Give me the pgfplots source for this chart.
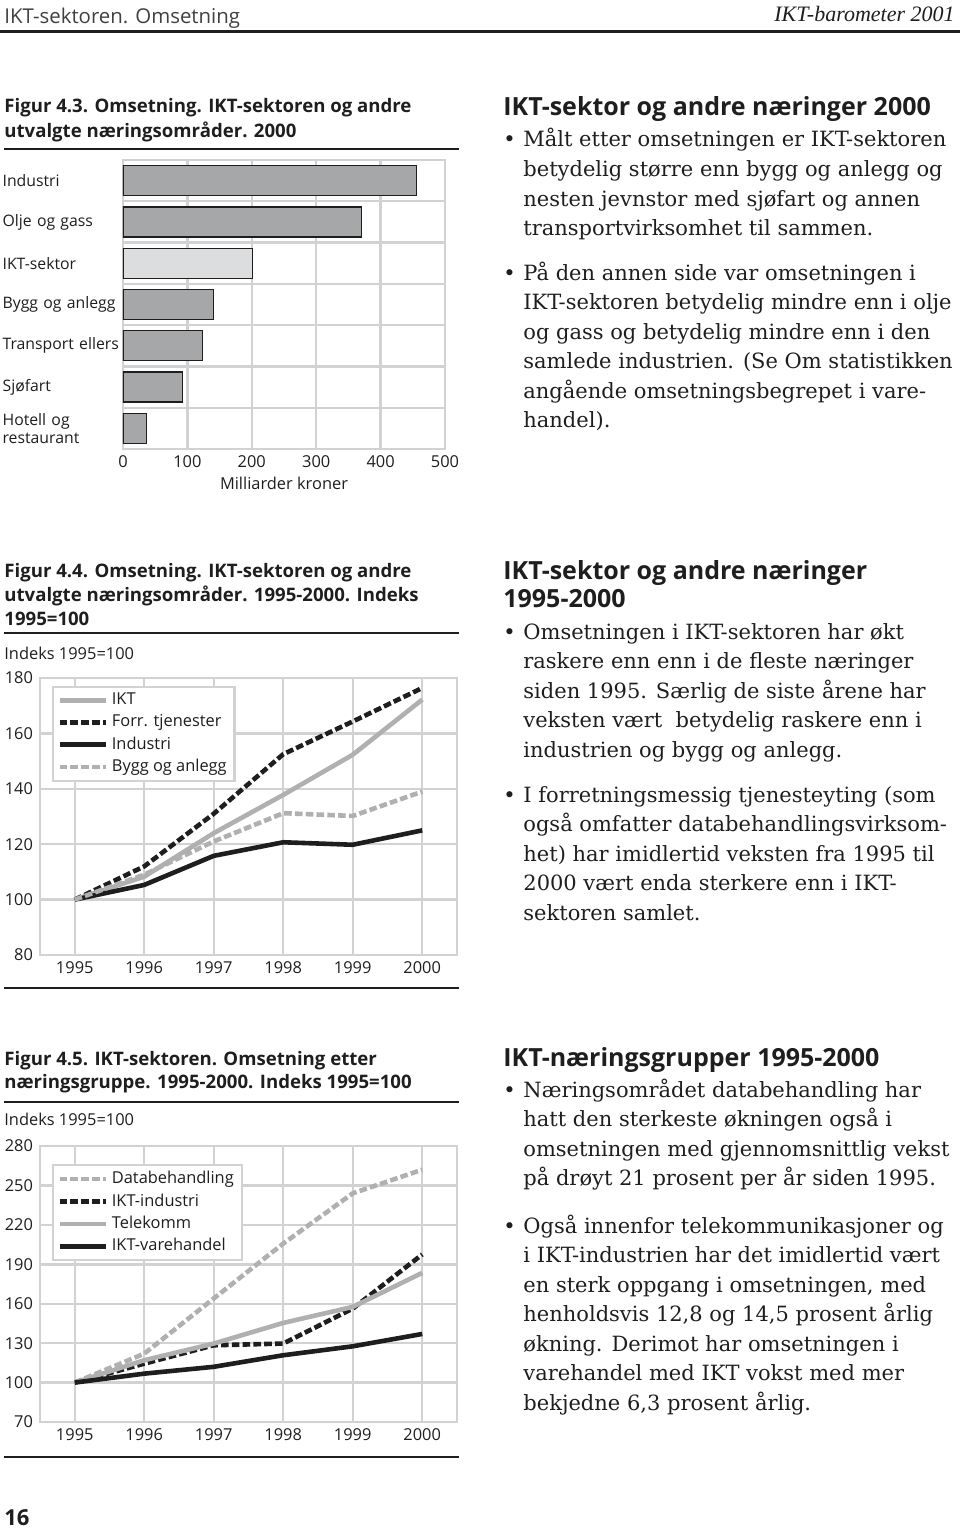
\documentclass[border=0pt]{standalone}
\usepackage{pgfplots}
\pgfplotsset{compat=1.18}
\usepackage{fontspec}
\setmainfont{DejaVu Serif}
\setsansfont{Open Sans}
\newfontfamily\timesf{Liberation Serif}
\definecolor{gridc}{HTML}{D2D2D2}
\definecolor{barc}{HTML}{A6A7A9}
\definecolor{iktc}{HTML}{DCDDDE}
\definecolor{lgrey}{HTML}{B0B0B0}
\definecolor{dk}{HTML}{1E1E1E}
\newcommand\fsz[2]{\fontsize{#1}{#2}\selectfont}
\newcommand\tickf{\sffamily\fsz{8.2pt}{9pt}}
\newcommand\catf{\sffamily\fsz{7.9pt}{9pt}}
\newcommand\bodyf{\rmfamily\fsz{10.5pt}{12pt}}
\newcommand\headf{\sffamily\bfseries\fsz{12.5pt}{14pt}}
\newcommand\titf{\sffamily\bfseries\fsz{9.3pt}{11pt}}
\newcommand\TL[2]{\node[anchor=base west,inner sep=0pt,font=\bodyf,text=dk] at (523,#1) {#2};}
\newcommand\BU[1]{\node[anchor=base west,inner sep=0pt,font=\bodyf,text=dk] at (503,#1) {•};}
\newcommand\HD[2]{\node[anchor=base west,inner sep=0pt,font=\headf,text=dk] at (503,#1) {#2};}
\newcommand\FT[2]{\node[anchor=base west,inner sep=0pt,font=\titf,text=dk] at (4,#1) {#2};}
\pgfplotsset{
  common/.style={
    scale only axis, anchor=south west,
    grid style={gridc, line width=1.2pt},
    minor grid style={gridc, line width=1.2pt},
    axis line style={gridc, line width=1.2pt},
    major tick length=0pt, minor tick length=0pt,
    ticklabel style={font=\tickf, text=dk},
    /pgf/number format/assume math mode=true,
    /pgf/number format/1000 sep={},
  },
  linech/.style={
    common, width=208.5pt, height=138.5pt,
    xmin=1994.5, xmax=2000.5, xtick={1995,...,2000},
    xmajorgrids, ymajorgrids,
    legend style={draw=gridc, line width=1.2pt, fill=white, font=\tickf, text=dk,
      inner xsep=2pt, inner ysep=1pt, row sep=-0.5pt, cells={anchor=west}},
    legend cell align=left,
    legend image code/.code={\draw[##1] (0pt,0pt) -- (23pt,0pt);},
  },
  sg/.style={lgrey, line width=2.3pt, line join=round},
  dg/.style={lgrey, line width=2.3pt, line join=round, dash pattern=on 3.8pt off 1.6pt},
  sb/.style={dk, line width=2.3pt, line join=round},
  db/.style={dk, line width=2.3pt, line join=round, dash pattern=on 3.8pt off 1.6pt},
}
\begin{document}
\begin{tikzpicture}
\useasboundingbox (0,0) rectangle (480pt,-765pt);
\begin{scope}[x=0.5pt,y=-0.5pt]
% header
\node[anchor=base west,inner sep=0pt,font=\sffamily\fsz{10.2pt}{12pt},text=dk!85] at (4,24) {IKT-sektoren. Omsetning};
\node[anchor=base east,inner sep=0pt,font=\timesf\itshape\fsz{11pt}{13pt},text=dk] at (955,22) {IKT-barometer 2001};
\draw[dk, line width=1.5pt] (0,32) -- (960,32);
% chart titles
\FT{113}{Figur 4.3. Omsetning. IKT-sektoren og andre}
\FT{138}{utvalgte næringsområder. 2000}
\draw[dk, line width=1pt] (4,149) -- (459,149);
\FT{577}{Figur 4.4. Omsetning. IKT-sektoren og andre}
\FT{601}{utvalgte næringsområder. 1995-2000. Indeks}
\FT{625}{1995=100}
\draw[dk, line width=1pt] (4,633) -- (459,633);
\node[anchor=base west,inner sep=0pt,font=\tickf,text=dk] at (4,659) {Indeks 1995=100};
\draw[dk, line width=1pt] (4,988) -- (459,988);
\FT{1065}{Figur 4.5. IKT-sektoren. Omsetning etter}
\FT{1088}{næringsgruppe. 1995-2000. Indeks 1995=100}
\draw[dk, line width=1pt] (4,1102) -- (459,1102);
\node[anchor=base west,inner sep=0pt,font=\tickf,text=dk] at (4,1125) {Indeks 1995=100};
\draw[dk, line width=1pt] (4,1457) -- (459,1457);
\node[anchor=base west,inner sep=0pt,font=\sffamily\bfseries\fsz{11pt}{13pt},text=dk] at (4,1525) {16};
% text block 1
\HD{116}{IKT-sektor og andre næringer 2000}
\BU{147}
\TL{147}{Målt etter omsetningen er IKT-sektoren}
\TL{176.5}{betydelig større enn bygg og anlegg og}
\TL{206}{nesten jevnstor med sjøfart og annen}
\TL{235.5}{transportvirksomhet til sammen.}
\BU{280}
\TL{280}{På den annen side var omsetningen i}
\TL{309.5}{IKT-sektoren betydelig mindre enn i olje}
\TL{339}{og gass og betydelig mindre enn i den}
\TL{368.5}{samlede industrien. (Se Om statistikken}
\TL{398}{angående omsetningsbegrepet i vare-}
\TL{427.5}{handel).}
% text block 2
\HD{579}{IKT-sektor og andre næringer}
\HD{607}{1995-2000}
\BU{639}
\TL{639}{Omsetningen i IKT-sektoren har økt}
\TL{668.5}{raskere enn enn i de fleste næringer}
\TL{698}{siden 1995. Særlig de siste årene har}
\TL{727.5}{veksten vært\ \ betydelig raskere enn i}
\TL{757}{industrien og bygg og anlegg.}
\BU{802}
\TL{802}{I forretningsmessig tjenesteyting (som}
\TL{831.5}{også omfatter databehandlingsvirksom-}
\TL{861}{het) har imidlertid veksten fra 1995 til}
\TL{890.5}{2000 vært enda sterkere enn i IKT-}
\TL{920}{sektoren samlet.}
% text block 3
\HD{1066}{IKT-næringsgrupper 1995-2000}
\BU{1097}
\TL{1097}{Næringsområdet databehandling har}
\TL{1126.5}{hatt den sterkeste økningen også i}
\TL{1156}{omsetningen med gjennomsnittlig vekst}
\TL{1185.5}{på drøyt 21 prosent per år siden 1995.}
\BU{1233}
\TL{1233}{Også innenfor telekommunikasjoner og}
\TL{1262.5}{i IKT-industrien har det imidlertid vært}
\TL{1292}{en sterk oppgang i omsetningen, med}
\TL{1321.5}{henholdsvis 12,8 og 14,5 prosent årlig}
\TL{1351}{økning. Derimot har omsetningen i}
\TL{1380.5}{varehandel med IKT vokst med mer}
\TL{1410}{bekjedne 6,3 prosent årlig.}
\end{scope}

% Chart 4.3
\begin{axis}[common, at={(61.5pt,-224.5pt)}, width=161pt, height=144.5pt,
  xmin=0, xmax=500, ymin=-0.5, ymax=6.5, y dir=reverse,
  xtick={0,100,...,500}, ytick={0,...,6},
  yticklabels={Industri,Olje og gass,IKT-sektor,Bygg og anlegg,Transport ellers,Sjøfart,{Hotell og\\restaurant}},
  yticklabel style={text width=60pt, align=left, inner sep=0pt, font=\catf},
  minor ytick={0.5,1.5,...,5.5},
  xmajorgrids, yminorgrids,
  xlabel={Milliarder kroner}, xlabel style={font=\tickf, text=dk, inner sep=0pt, yshift=-1pt},
]
\addplot[xbar, bar width=15pt, bar shift=0pt, fill=barc, draw=dk, line width=0.6pt]
  coordinates {(456,0) (370,1) (141,3) (123,4) (92,5) (36,6)};
\addplot[xbar, bar width=15pt, bar shift=0pt, fill=iktc, draw=dk, line width=0.6pt]
  coordinates {(201,2)};
\end{axis}

% Chart 4.4
\begin{axis}[linech, at={(20pt,-477.5pt)},
  ymin=80, ymax=180, ytick={80,100,...,180},
  legend style={at={(0.029,0.971)}, anchor=north west},
]
\addplot[sg] coordinates {(1995,100) (1996,108.3) (1997,124) (1998,137.8) (1999,152.3) (2000,172.2)};
\addlegendentry{IKT}
\addplot[db] coordinates {(1995,100) (1996,112) (1997,131) (1998,152.5) (1999,164.3) (2000,176.4)};
\addlegendentry{Forr. tjenester}
\addplot[sb] coordinates {(1995,100) (1996,105.3) (1997,115.8) (1998,120.7) (1999,119.8) (2000,125)};
\addlegendentry{Industri}
\addplot[dg] coordinates {(1995,100) (1996,109) (1997,121) (1998,131.2) (1999,130.2) (2000,139)};
\addlegendentry{Bygg og anlegg}
\end{axis}

% Chart 4.5
\begin{axis}[linech, at={(20pt,-711pt)}, height=138pt,
  ymin=70, ymax=280, ytick={70,100,...,280},
  legend style={at={(0.029,0.935)}, anchor=north west},
]
\addplot[dg] coordinates {(1995,100) (1996,122) (1997,164) (1998,205.8) (1999,244) (2000,262)};
\addlegendentry{Databehandling}
\addplot[db] coordinates {(1995,100) (1996,114.4) (1997,128.4) (1998,129.7) (1999,156.3) (2000,197.5)};
\addlegendentry{IKT-industri}
\addplot[sg] coordinates {(1995,100) (1996,117) (1997,129.7) (1998,145.4) (1999,157.6) (2000,183.5)};
\addlegendentry{Telekomm}
\addplot[sb] coordinates {(1995,100) (1996,106.8) (1997,112) (1998,120.8) (1999,127.6) (2000,137)};
\addlegendentry{IKT-varehandel}
\end{axis}
\end{tikzpicture}
\end{document}
